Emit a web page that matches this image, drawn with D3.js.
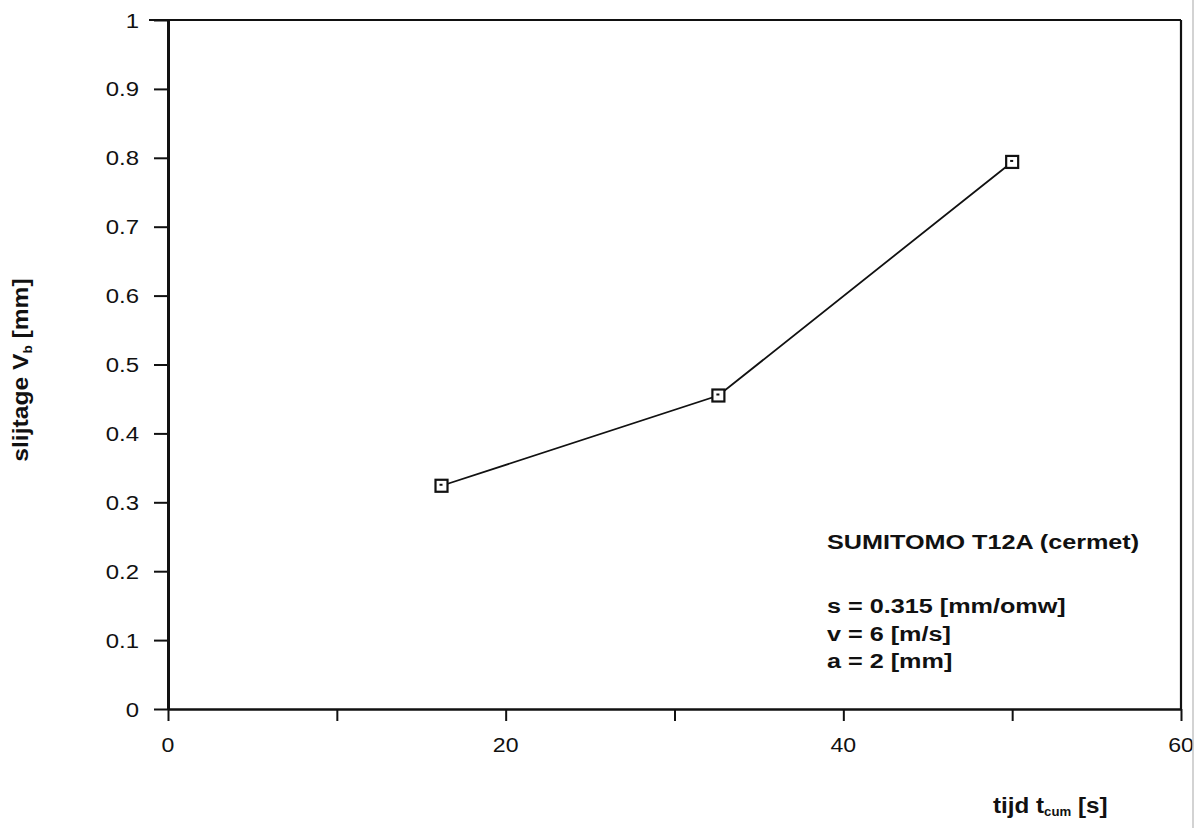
<!DOCTYPE html>
<html>
<head>
<meta charset="utf-8">
<script src="https://cdn.jsdelivr.net/npm/d3@7"></script>
<style>
  html, body { margin: 0; padding: 0; background: #fff; }
  svg { display: block; }
  text { font-family: "Liberation Sans", Arial, Helvetica, sans-serif; fill: #111; }
</style>
</head>
<body>
<svg id="chart" width="1201" height="828"></svg>
<script>
// Cumulative cutting time [s] and flank wear Vb [mm]
const times = [16.2, 32.6, 50.0];
const wear = [0.324, 0.455, 0.794];

// Axis ticks and their labels
const xTickValues = [0, 10, 20, 30, 40, 50, 60];
const xTickLabels = ["0", "", "20", "", "40", "", "60"];
const yTickValues = [0, 0.1, 0.2, 0.3, 0.4, 0.5, 0.6, 0.7, 0.8, 0.9, 1];
const yTickLabels = ["0", "0.1", "0.2", "0.3", "0.4", "0.5", "0.6", "0.7", "0.8", "0.9", "1"];

// Test conditions printed inside the plot
const infoTitle = "SUMITOMO T12A (cermet)";
const infoLines = ["s = 0.315 [mm/omw]", "v = 6 [m/s]", "a = 2 [mm]"];

const svg = d3.select("#chart");
const W = 1201, H = 828;
const plotLeft = 168, plotRight = 1181, plotTop = 20, plotBottom = 709;
const ink = "#111";

const x = d3.scaleLinear().domain([0, 60]).range([plotLeft, plotRight]);
const y = d3.scaleLinear().domain([0, 1]).range([plotBottom, plotTop]);

svg.append("rect").attr("width", W).attr("height", H).attr("fill", "#fff");

// Wide plotter lettering: stretch a text along its own baseline
function wideText(g, str, px, py, opts) {
  const o = Object.assign({ size: 20, weight: "normal", anchor: "start", k: 1.2, rot: 0 }, opts);
  return g.append("text")
    .attr("transform", `translate(${px},${py}) rotate(${o.rot}) scale(${o.k},1)`)
    .attr("text-anchor", o.anchor)
    .attr("font-size", o.size)
    .attr("font-weight", o.weight)
    .text(str);
}

// Frame: top and right border
svg.append("line").attr("x1", plotLeft - 19).attr("x2", plotRight).attr("y1", plotTop).attr("y2", plotTop)
  .attr("stroke", ink).attr("stroke-width", 2.2);
svg.append("line").attr("x1", plotRight).attr("x2", plotRight).attr("y1", plotTop).attr("y2", plotBottom)
  .attr("stroke", ink).attr("stroke-width", 2.2);

// Y axis
const yAxis = d3.axisLeft(y).tickValues(yTickValues).tickSize(14).tickSizeOuter(0).tickFormat("");
const gy = svg.append("g").attr("transform", `translate(${plotLeft},0)`).call(yAxis);
gy.select(".domain").attr("stroke", ink).attr("stroke-width", 3);
gy.selectAll(".tick line").attr("stroke", ink).attr("stroke-width", 2);

// X axis
const xAxis = d3.axisBottom(x).tickValues(xTickValues).tickSize(12).tickSizeOuter(0).tickFormat("");
const gx = svg.append("g").attr("transform", `translate(0,${plotBottom})`).call(xAxis);
gx.select(".domain").attr("stroke", ink).attr("stroke-width", 2.5);
gx.selectAll(".tick line").attr("stroke", ink).attr("stroke-width", 2);

// Tick labels
const labels = svg.append("g");
yTickValues.forEach((v, i) => {
  wideText(labels, yTickLabels[i], plotLeft - 29, y(v) + 7.5, { size: 21, anchor: "end", k: 1.14 });
});
xTickValues.forEach((v, i) => {
  if (xTickLabels[i]) wideText(labels, xTickLabels[i], x(v), plotBottom + 43, { size: 21, anchor: "middle", k: 1.1 });
});

// Axis titles
const yt = wideText(svg, "", 28, 370, { size: 22, weight: "bold", anchor: "middle", k: 1.12, rot: -90 });
yt.append("tspan").text("slijtage V");
yt.append("tspan").attr("font-size", 12).attr("dy", 4).text("b");
yt.append("tspan").attr("dy", -4).text(" [mm]");

const xt = wideText(svg, "", 993, 813, { size: 22, weight: "bold", anchor: "start", k: 1.1 });
xt.append("tspan").text("tijd t");
xt.append("tspan").attr("font-size", 12).attr("dy", 3).text("cum");
xt.append("tspan").attr("dy", -3).text(" [s]");

// Measured wear curve
const pts = times.map((t, i) => [t, wear[i]]);
svg.append("path")
  .datum(pts)
  .attr("fill", "none")
  .attr("stroke", ink)
  .attr("stroke-width", 1.8)
  .attr("d", d3.line().x(d => x(d[0])).y(d => y(d[1])));

const m = svg.append("g").selectAll("g").data(pts).join("g")
  .attr("transform", d => `translate(${x(d[0])},${y(d[1])})`);
m.append("rect").attr("x", -6).attr("y", -6).attr("width", 12).attr("height", 12)
  .attr("fill", "#fff").attr("stroke", ink).attr("stroke-width", 2.2);
m.append("rect").attr("x", -2).attr("y", -2).attr("width", 3).attr("height", 2).attr("fill", ink);

// Test conditions
const info = svg.append("g");
wideText(info, infoTitle, 827, 549, { size: 21, weight: "bold", k: 1.2 });
infoLines.forEach((s, i) => {
  wideText(info, s, 827, 613 + i * 27.5, { size: 21, weight: "bold", k: 1.2 });
});

// Faint edge line along the right margin of the sheet
svg.append("line").attr("x1", 1193).attr("x2", 1193).attr("y1", 0).attr("y2", H)
  .attr("stroke", "#c4c4c4").attr("stroke-width", 1.5);
</script>
</body>
</html>
